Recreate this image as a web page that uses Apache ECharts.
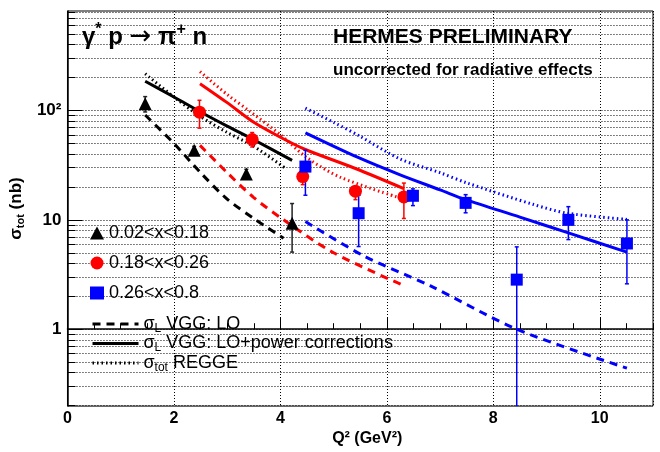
<!DOCTYPE html>
<html>
<head>
<meta charset="utf-8">
<script src="https://cdn.jsdelivr.net/npm/echarts@6/dist/echarts.min.js"></script>
<style>
  html, body { margin: 0; padding: 0; background: #fff; }
  #main { width: 660px; height: 452px; }
</style>
</head>
<body>
<div id="main"></div>
<script>
// HERMES data, Q2 in GeV2, sigma_tot in nb
var lowX = [1.46, 2.38, 3.36, 4.22];
var lowY = [115, 43.3, 26.3, 9.3];
var lowDown = [97, 40, 24, 5.07];
var lowUp = [134, 47, 29, 14.1];

var midX = [2.48, 3.47, 4.42, 5.41, 6.32];
var midY = [96.5, 54.3, 24.9, 18.3, 16.2];
var midDown = [69, 46.4, 21, 15.3, 10.3];
var midUp = [124, 62.9, 29, 19.5, 21.7];

var highX = [4.47, 5.47, 6.49, 7.48, 8.44, 9.41, 10.51];
var highY = [30.7, 11.5, 16.6, 14.3, 2.84, 10, 6.08];
var highDown = [16.8, 5.7, 13.5, 11.6, 0.1, 6.6, 2.6];
var highUp = [43.3, 16.8, 19.2, 17.0, 5.66, 13.2, 10];

// model curves
var loLowX = [1.46, 2.0, 2.5, 3.0, 3.5, 4.06];
var loLowY = [91, 50, 27, 15.5, 10.3, 6.8];
var pcLowX = [1.46, 2.0, 2.5, 3.0, 3.5, 4.22];
var pcLowY = [185, 133, 97, 72, 54, 35];
var reLowX = [1.46, 2.0, 2.5, 3.0, 3.5, 4.12];
var reLowY = [217, 133, 88, 63, 47, 29];

var loMidX = [2.49, 3.0, 3.5, 4.06, 5.0, 6.29];
var loMidY = [48, 27, 16, 10, 5.0, 2.54];
var pcMidX = [2.49, 3.0, 3.5, 4.0, 4.47, 5.41, 6.32];
var pcMidY = [176, 118, 78, 57, 44, 29.5, 19.3];
var reMidX = [2.49, 3.0, 3.43, 4.0, 4.5, 5.12, 6.19];
var reMidY = [227, 140, 98, 60, 37, 24.6, 16.2];

var loHighX = [4.47, 5.57, 6.81, 8.44, 10.51];
var loHighY = [9.66, 4.67, 2.5, 1.0, 0.44];
var pcHighX = [4.47, 5.47, 6.25, 7.0, 7.48, 8.5, 9.41, 10.51];
var pcHighY = [62.5, 37, 25.8, 18.8, 15.3, 10.6, 7.6, 5.07];
var reHighX = [4.47, 5.0, 5.5, 6.25, 7.0, 7.5, 8.76, 9.39, 10.51];
var reHighY = [105, 78, 58, 36, 27, 21.8, 13.8, 11.5, 10.1];

// axis
var yMajor = [1, 10, 100];
var yMinor = [0.2, 0.3, 0.4, 0.5, 0.6, 0.7, 0.8, 0.9, 2, 3, 4, 5, 6, 7, 8, 9,
              20, 30, 40, 50, 60, 70, 80, 90, 200, 300, 400, 500, 600, 700, 800];
var yMajorText = ['1', '10', '10²'];

var FONT = 'Liberation Sans, Arial, Helvetica, sans-serif';
var lg = Math.log10;

function pairs(xs, ys) {
  return xs.map(function (x, i) { return [x, lg(ys[i])]; });
}

function curve(name, xs, ys, color, dash) {
  return {
    name: name, type: 'line', data: pairs(xs, ys), smooth: 0.3,
    symbol: 'none', silent: true, z: 3,
    itemStyle: { color: color },
    lineStyle: { color: color, width: 3, type: dash }
  };
}

function errBars(xs, lo, hi, color) {
  return {
    type: 'custom', silent: true, z: 4,
    data: xs.map(function (x, i) { return [x, lg(lo[i]), lg(hi[i])]; }),
    encode: { x: 0, y: [1, 2] },
    renderItem: function (params, api) {
      var cs = params.coordSys;
      var a = api.coord([api.value(0), api.value(1)]);
      var b = api.coord([api.value(0), api.value(2)]);
      var bottom = cs.y + cs.height;
      var capLo = a[1] <= bottom;
      a[1] = Math.min(a[1], bottom);
      var s = { stroke: color, lineWidth: 1.5 };
      var kids = [
        { type: 'line', shape: { x1: a[0], y1: a[1], x2: b[0], y2: b[1] }, style: s },
        { type: 'line', shape: { x1: b[0] - 2, y1: b[1], x2: b[0] + 2, y2: b[1] }, style: s }
      ];
      if (capLo) kids.push({ type: 'line', shape: { x1: a[0] - 2, y1: a[1], x2: a[0] + 2, y2: a[1] }, style: s });
      return { type: 'group', children: kids };
    }
  };
}

function points(name, xs, ys, color, symbol, size) {
  return {
    name: name, type: 'scatter', data: pairs(xs, ys), symbol: symbol,
    symbolSize: size, z: 5, itemStyle: { color: color, opacity: 1 }
  };
}

var legendText = {
  lo: '{t|σ}{s|L}{t| VGG: LO}',
  pc: '{t|σ}{s|L}{t| VGG: LO+power corrections}',
  re: '{t|σ}{s|tot}{t| REGGE}'
};

var dotted = [1, 2];

var option = {
  animation: false,
  textStyle: { fontFamily: FONT },
  grid: { left: 67, right: 7, top: 11, bottom: 40, show: true, borderColor: '#000', borderWidth: 1 },
  xAxis: [
    {
      type: 'value', min: 0, max: 11, interval: 2,
      axisLine: { lineStyle: { color: '#000', width: 1.5 } },
      axisTick: { inside: true, length: 12, lineStyle: { color: '#000' } },
      axisLabel: { showMaxLabel: false, color: '#000', fontSize: 16, fontWeight: 'bold', margin: 4 },
      splitLine: { show: true, lineStyle: { color: '#000', type: dotted, width: 1 } },
      name: 'Q² (GeV²)', nameLocation: 'middle', nameGap: 20,
      nameTextStyle: { color: '#000', fontSize: 16, fontWeight: 'bold', padding: [0, 0, 0, 14] }
    },
    {
      type: 'value', min: 0, max: 11, interval: 0.5, position: 'bottom',
      axisLine: { show: false },
      axisTick: { inside: true, length: 6, lineStyle: { color: '#000' } },
      axisLabel: { show: false },
      splitLine: { show: false }
    }
  ],
  yAxis: [
    {
      type: 'value', min: lg(0.198), max: lg(813), position: 'left',
      axisLine: { show: true, lineStyle: { color: '#000', width: 1.5 } },
      axisTick: { inside: true, length: 15, customValues: yMajor.map(lg), lineStyle: { color: '#000' } },
      axisLabel: {
        customValues: yMajor.map(lg), color: '#000', fontSize: 17, fontWeight: 'bold', margin: 6,
        formatter: function (v) { return yMajorText[Math.round(v)]; }
      },
      splitLine: { show: true, lineStyle: { color: '#000', type: dotted, width: 1 } },
      name: '{s|σ}{b|tot}{s| (nb)}', nameLocation: 'middle', nameGap: 36, nameRotate: 90,
      nameTextStyle: {
        rich: {
          s: { fontSize: 17, fontWeight: 'bold', color: '#000', fontFamily: FONT },
          b: { fontSize: 11, fontWeight: 'bold', color: '#000', fontFamily: FONT, padding: [8, 0, 0, 0] }
        }
      }
    },
    {
      type: 'value', min: lg(0.198), max: lg(813), position: 'left', offset: 0,
      axisLine: { show: false },
      axisTick: { inside: true, length: 8, customValues: yMinor.map(lg), lineStyle: { color: '#000' } },
      axisLabel: { show: false },
      splitLine: { show: true, lineStyle: { color: '#000', type: dotted, width: 1 } }
    }
  ],
  legend: [
    {
      data: ['0.02<x<0.18', '0.18<x<0.26', '0.26<x<0.8'],
      orient: 'vertical', left: 85, top: 219, itemGap: 12, itemWidth: 14, itemHeight: 13,
      itemStyle: { opacity: 1 }, selectedMode: false,
      textStyle: { fontSize: 18, color: '#000', fontFamily: FONT }
    },
    {
      data: ['lo', 'pc', 're'],
      orient: 'vertical', left: 86, top: 310, itemGap: 0, itemWidth: 46, itemHeight: 14,
      itemStyle: { opacity: 0 }, lineStyle: { width: 3, color: '#000' },
      selectedMode: false,
      formatter: function (n) { return legendText[n]; },
      textStyle: {
        color: '#000', fontFamily: FONT,
        rich: {
          t: { fontSize: 18, fontFamily: FONT, color: '#000' },
          s: { fontSize: 12, fontFamily: FONT, color: '#000', padding: [9, 0, 0, 0] }
        }
      }
    }
  ],
  graphic: [
    {
      type: 'text', left: 82, top: 22,
      style: {
        text: '{a|γ}{u|*}{a| p }{r|→}{a| π}{u|+}{a| n}',
        rich: {
          a: { fontSize: 24, fontWeight: 'bold', fontFamily: FONT, fill: '#000' },
          r: { fontSize: 26, fontFamily: 'DejaVu Sans', fill: '#000' },
          u: { fontSize: 16, fontWeight: 'bold', fontFamily: FONT, fill: '#000', padding: [0, 0, 14, 0] }
        }
      }
    },
    {
      type: 'text', left: 333, top: 27,
      style: { text: 'HERMES PRELIMINARY', fontSize: 21, fontWeight: 'bold', fontFamily: FONT, fill: '#000' }
    },
    {
      type: 'text', left: 333, top: 62,
      style: { text: 'uncorrected for radiative effects', fontSize: 17, fontWeight: 'bold', fontFamily: FONT, fill: '#000' }
    }
  ],
  series: [
    curve('lo', [], [], '#000', [8, 6]),
    curve('pc', [], [], '#000', 'solid'),
    curve('re', [], [], '#000', [1.5, 3]),

    curve('loLow', loLowX, loLowY, '#000', [8, 6]),
    curve('pcLow', pcLowX, pcLowY, '#000', 'solid'),
    curve('reLow', reLowX, reLowY, '#000', [1.5, 3]),
    curve('loMid', loMidX, loMidY, '#ff0000', [8, 6]),
    curve('pcMid', pcMidX, pcMidY, '#ff0000', 'solid'),
    curve('reMid', reMidX, reMidY, '#ff0000', [1.5, 3]),
    curve('loHigh', loHighX, loHighY, '#0000ff', [8, 6]),
    curve('pcHigh', pcHighX, pcHighY, '#0000ff', 'solid'),
    curve('reHigh', reHighX, reHighY, '#0000ff', [1.5, 3]),

    errBars(lowX, lowDown, lowUp, '#222'),
    errBars(midX, midDown, midUp, '#ff0000'),
    errBars(highX, highDown, highUp, '#0000ff'),

    points('0.02<x<0.18', lowX, lowY, '#000', 'triangle', 13),
    points('0.18<x<0.26', midX, midY, '#ff0000', 'circle', 13),
    points('0.26<x<0.8', highX, highY, '#0000ff', 'rect', 12)
  ]
};

var chart = echarts.init(document.getElementById('main'));
chart.setOption(option);
</script>
</body>
</html>
